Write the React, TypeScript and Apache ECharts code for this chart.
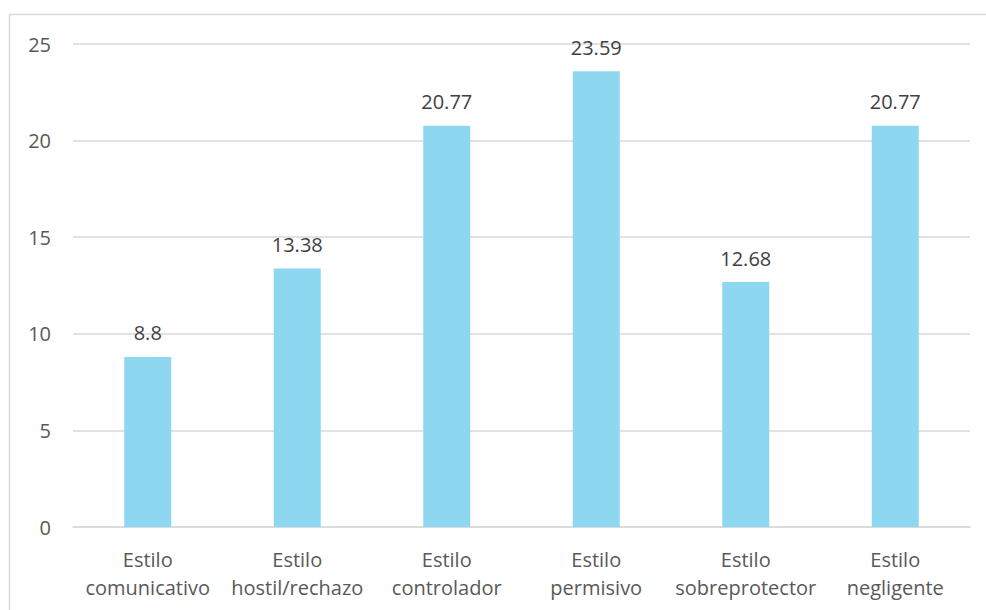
import React, { useEffect, useRef } from "react";
import * as echarts from "echarts";

const categories = [
  "Estilo\ncomunicativo",
  "Estilo\nhostil/rechazo",
  "Estilo\ncontrolador",
  "Estilo\npermisivo",
  "Estilo\nsobreprotector",
  "Estilo\nnegligente",
];
const values = [8.8, 13.38, 20.77, 23.59, 12.68, 20.77];
const yTicks = { min: 0, max: 25, interval: 5 };

export default function App() {
  const ref = useRef<HTMLDivElement>(null);
  useEffect(() => {
    if (!ref.current) return;
    const chart = echarts.init(ref.current, undefined, { renderer: "svg" });
    const font = "'Open Sans', sans-serif";
    chart.setOption({
      animation: false,
      backgroundColor: "#ffffff",
      grid: { left: 73, right: 16, top: 44, bottom: 83, containLabel: false },
      graphic: [
        {
          type: "polyline",
          shape: { points: [[9.5, 700], [9.5, 14.5], [1200, 14.5]] },
          style: { fill: "none", stroke: "#d9d9d9", lineWidth: 1.5 },
          silent: true,
          z: -1,
        },
      ],
      xAxis: {
        type: "category",
        data: categories,
        axisLine: { show: true, lineStyle: { color: "#d9d9d9", width: 1.5 } },
        axisTick: { show: false },
        axisLabel: {
          color: "#595959",
          fontSize: 20,
          fontFamily: font,
          lineHeight: 28,
          margin: 18,
          interval: 0,
        },
      },
      yAxis: {
        type: "value",
        min: yTicks.min,
        max: yTicks.max,
        interval: yTicks.interval,
        axisLine: { show: false },
        axisTick: { show: false },
        axisLabel: { color: "#595959", fontSize: 20, fontFamily: font, margin: 22 },
        splitLine: { lineStyle: { color: "#d9d9d9", width: 1.5 } },
      },
      series: [
        {
          type: "bar",
          data: values,
          barWidth: 47,
          itemStyle: { color: "#8dd8f0" },
          label: {
            show: true,
            position: "top",
            distance: 14,
            color: "#404040",
            fontSize: 20,
            fontFamily: font,
          },
        },
      ],
    });
    return () => chart.dispose();
  }, []);
  return (
    <div
      ref={ref}
      style={{ position: "fixed", left: 0, top: 0, width: 986, height: 610 }}
    />
  );
}
